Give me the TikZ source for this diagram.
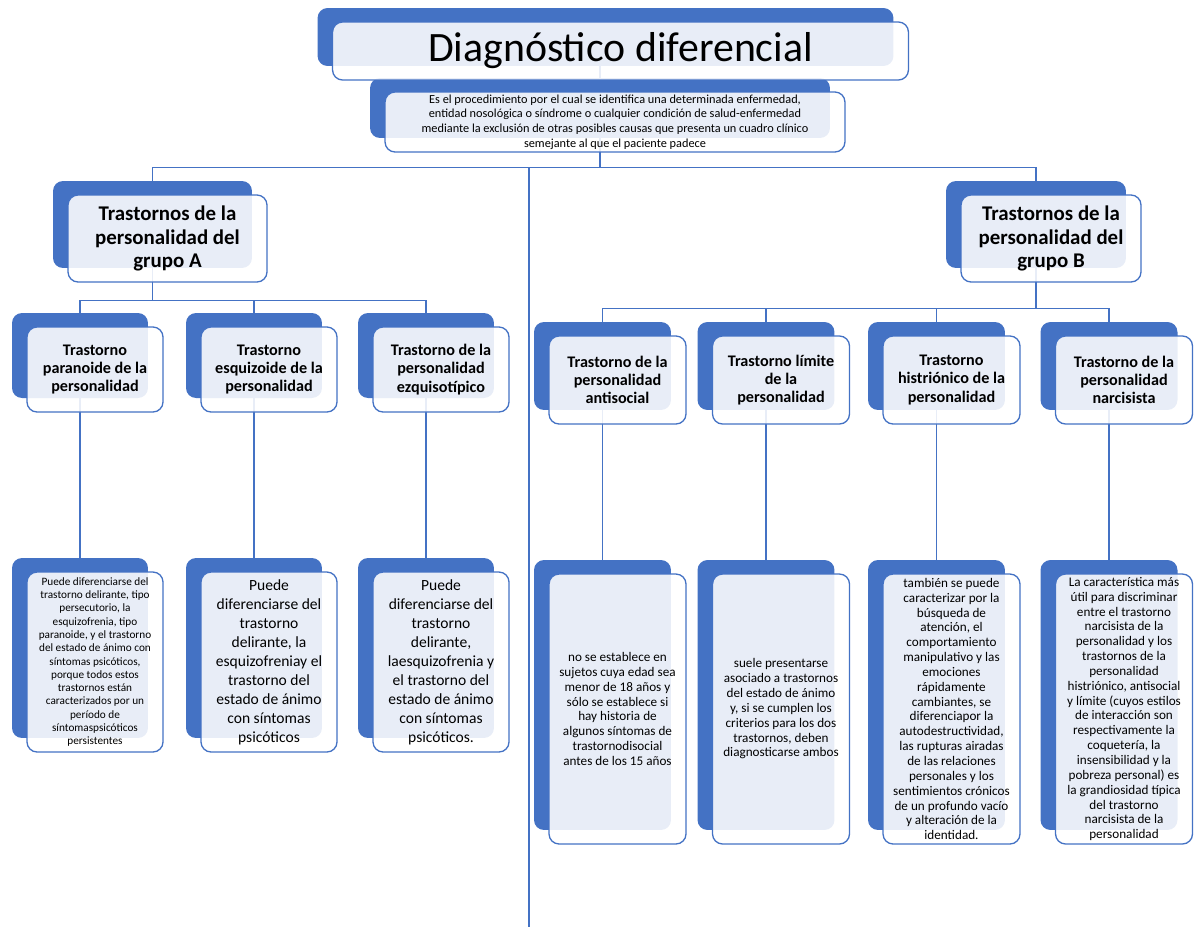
\documentclass[tikz,border=0pt]{standalone}
\usepackage{fontspec}
\setmainfont{Carlito}
\usetikzlibrary{backgrounds}
\definecolor{boxblue}{HTML}{4472C4}
\newcommand{\ftTitle}{\fontsize{23.8}{28}\selectfont}
\newcommand{\ftDesc}{\fontsize{7}{8.4}\selectfont}
\newcommand{\ftGroup}{\fontsize{11.9}{13.4}\selectfont\bfseries}
\newcommand{\ftHead}{\fontsize{9.2}{10.4}\selectfont\bfseries}
\newcommand{\ftSmall}{\fontsize{6.4}{7.55}\selectfont}
\newcommand{\ftMid}{\fontsize{8.85}{10.8}\selectfont}
\newcommand{\ftBody}{\fontsize{7.5}{8.45}\selectfont}
\tikzset{
  backbox/.style={fill=boxblue, rounded corners=0.2cm, inner sep=0pt},
  frontbox/.style={draw=boxblue, line width=0.75pt, fill=white, fill opacity=0.88,
    text opacity=1, rounded corners=0.2cm, align=center, inner sep=1pt},
  link/.style={draw=boxblue, line width=0.85pt},
}

\begin{document}
\begin{tikzpicture}[x=0.02cm, y=-0.02cm]
    \useasboundingbox (0,0) rectangle (1200,927);
    % back boxes
    \node[backbox, minimum width=11.52cm, minimum height=1.16cm] (title) at (605.5,37) {};
    \node[backbox, minimum width=9.2cm, minimum height=1.2cm] (desc) at (600,108) {};
    \node[backbox, minimum width=3.98cm, minimum height=1.74cm] (ga) at (152.5,224.5) {};
    \node[backbox, minimum width=3.6cm, minimum height=1.74cm] (gb) at (1036,224.5) {};
    \node[backbox, minimum width=2.72cm, minimum height=1.7cm] (a1) at (80,355.5) {};
    \node[backbox, minimum width=2.72cm, minimum height=1.7cm] (a2) at (254,355.5) {};
    \node[backbox, minimum width=2.72cm, minimum height=1.7cm] (a3) at (426,355.5) {};
    \node[backbox, minimum width=2.72cm, minimum height=3.6cm] (da1) at (80,648) {};
    \node[backbox, minimum width=2.72cm, minimum height=3.6cm] (da2) at (254,648) {};
    \node[backbox, minimum width=2.72cm, minimum height=3.6cm] (da3) at (426,648) {};
    \node[backbox, minimum width=2.74cm, minimum height=1.76cm] (b1) at (602.5,366) {};
    \node[backbox, minimum width=2.74cm, minimum height=1.76cm] (b2) at (766,366) {};
    \node[backbox, minimum width=2.74cm, minimum height=1.76cm] (b3) at (936.5,366) {};
    \node[backbox, minimum width=2.74cm, minimum height=1.76cm] (b4) at (1109,366) {};
    \node[backbox, minimum width=2.74cm, minimum height=5.4cm] (db1) at (602.5,695) {};
    \node[backbox, minimum width=2.74cm, minimum height=5.4cm] (db2) at (766,695) {};
    \node[backbox, minimum width=2.74cm, minimum height=5.4cm] (db3) at (936.5,695) {};
    \node[backbox, minimum width=2.74cm, minimum height=5.4cm] (db4) at (1109,695) {};

    % front boxes with the texts
    \node[frontbox, minimum width=11.52cm, minimum height=1.16cm, font=\ftTitle] (titleT) at ([shift={(15,14)}]title) {Diagnóstico diferencial};
    \node[frontbox, minimum width=9.2cm, minimum height=1.2cm, font=\ftDesc] (descT) at ([shift={(15,14)}]desc) {Es el procedimiento por el cual se identifica una determinada enfermedad,\\ entidad nosológica o síndrome o cualquier condición de salud-enfermedad\\ mediante la exclusión de otras posibles causas que presenta un cuadro clínico\\ semejante al que el paciente padece};
    \node[frontbox, minimum width=3.98cm, minimum height=1.74cm, font=\ftGroup] (gaT) at ([shift={(15,14)}]ga) {Trastornos de la\\ personalidad del\\ grupo A};
    \node[frontbox, minimum width=3.6cm, minimum height=1.74cm, font=\ftGroup] (gbT) at ([shift={(15,14)}]gb) {Trastornos de la\\ personalidad del\\ grupo B};
    \node[frontbox, minimum width=2.72cm, minimum height=1.7cm, font=\ftHead] (a1T) at ([shift={(15,14)}]a1) {Trastorno\\ paranoide de la\\ personalidad};
    \node[frontbox, minimum width=2.72cm, minimum height=1.7cm, font=\ftHead] (a2T) at ([shift={(15,14)}]a2) {Trastorno\\ esquizoide de la\\ personalidad};
    \node[frontbox, minimum width=2.72cm, minimum height=1.7cm, font=\ftHead] (a3T) at ([shift={(15,14)}]a3) {Trastorno de la\\ personalidad\\ ezquisotípico};
    \node[frontbox, minimum width=2.72cm, minimum height=3.6cm, font=\ftSmall] (da1T) at ([shift={(15,14)}]da1) {Puede diferenciarse del\\ trastorno delirante, tipo\\ persecutorio, la\\ esquizofrenia, tipo\\ paranoide, y el trastorno\\ del estado de ánimo con\\ síntomas psicóticos,\\ porque todos estos\\ trastornos están\\ caracterizados por un\\ período de\\ síntomaspsicóticos\\ persistentes};
    \node[frontbox, minimum width=2.72cm, minimum height=3.6cm, font=\ftMid] (da2T) at ([shift={(15,14)}]da2) {Puede\\ diferenciarse del\\ trastorno\\ delirante, la\\ esquizofreniay el\\ trastorno del\\ estado de ánimo\\ con síntomas\\ psicóticos};
    \node[frontbox, minimum width=2.72cm, minimum height=3.6cm, font=\ftMid] (da3T) at ([shift={(15,14)}]da3) {Puede\\ diferenciarse del\\ trastorno\\ delirante,\\ laesquizofrenia y\\ el trastorno del\\ estado de ánimo\\ con síntomas\\ psicóticos.};
    \node[frontbox, minimum width=2.74cm, minimum height=1.76cm, font=\ftHead] (b1T) at ([shift={(15,14)}]b1) {Trastorno de la\\ personalidad\\ antisocial};
    \node[frontbox, minimum width=2.74cm, minimum height=1.76cm, font=\ftHead] (b2T) at ([shift={(15,14)}]b2) {Trastorno límite\\ de la\\ personalidad};
    \node[frontbox, minimum width=2.74cm, minimum height=1.76cm, font=\ftHead] (b3T) at ([shift={(15,14)}]b3) {Trastorno\\ histriónico de la\\ personalidad};
    \node[frontbox, minimum width=2.74cm, minimum height=1.76cm, font=\ftHead] (b4T) at ([shift={(15,14)}]b4) {Trastorno de la\\ personalidad\\ narcisista};
    \node[frontbox, minimum width=2.74cm, minimum height=5.4cm, font=\ftBody] (db1T) at ([shift={(15,14)}]db1) {no se establece en\\ sujetos cuya edad sea\\ menor de 18 años y\\ sólo se establece si\\ hay historia de\\ algunos síntomas de\\ trastornodisocial\\ antes de los 15 años};
    \node[frontbox, minimum width=2.74cm, minimum height=5.4cm, font=\ftBody] (db2T) at ([shift={(15,14)}]db2) {suele presentarse\\ asociado a trastornos\\ del estado de ánimo\\ y, si se cumplen los\\ criterios para los dos\\ trastornos, deben\\ diagnosticarse ambos};
    \node[frontbox, minimum width=2.74cm, minimum height=5.4cm, font=\ftBody] (db3T) at ([shift={(15,14)}]db3) {también se puede\\ caracterizar por la\\ búsqueda de\\ atención, el\\ comportamiento\\ manipulativo y las\\ emociones\\ rápidamente\\ cambiantes, se\\ diferenciapor la\\ autodestructividad,\\ las rupturas airadas\\ de las relaciones\\ personales y los\\ sentimientos crónicos\\ de un profundo vacío\\ y alteración de la\\ identidad.};
    \node[frontbox, minimum width=2.74cm, minimum height=5.4cm, font=\ftBody] (db4T) at ([shift={(15,14)}]db4) {La característica más\\ útil para discriminar\\ entre el trastorno\\ narcisista de la\\ personalidad y los\\ trastornos de la\\ personalidad\\ histriónico, antisocial\\ y límite (cuyos estilos\\ de interacción son\\ respectivamente la\\ coquetería, la\\ insensibilidad y la\\ pobreza personal) es\\ la grandiosidad típica\\ del trastorno\\ narcisista de la\\ personalidad};

    % connectors
    \coordinate (axis) at (529,927);
    \begin{scope}[on background layer]
    \draw[link] (title.south -| desc.north) -- (desc.north);
    \draw[link] (desc.south) -- ++(0,29) coordinate (bus);
    \draw[link] (bus) -| (ga.north);
    \draw[link] (bus) -| (gb.north);
    \draw[link, line width=1.1pt] (bus -| axis) -- (axis);
    \draw[link] (ga.south) -- ++(0,32) coordinate (busA);
    \foreach \n in {a1,a2,a3}
        \draw[link] (busA) -| (\n.north);
    \draw[link] (gb.south) -- ++(0,40) coordinate (busB);
    \foreach \n in {b1,b2,b3,b4}
        \draw[link] (busB) -| (\n.north);
    \foreach \n in {a1,a2,a3,b1,b2,b3,b4}
        \draw[link] (\n.south) -- (d\n.north);
    \end{scope}
\end{tikzpicture}
\end{document}
